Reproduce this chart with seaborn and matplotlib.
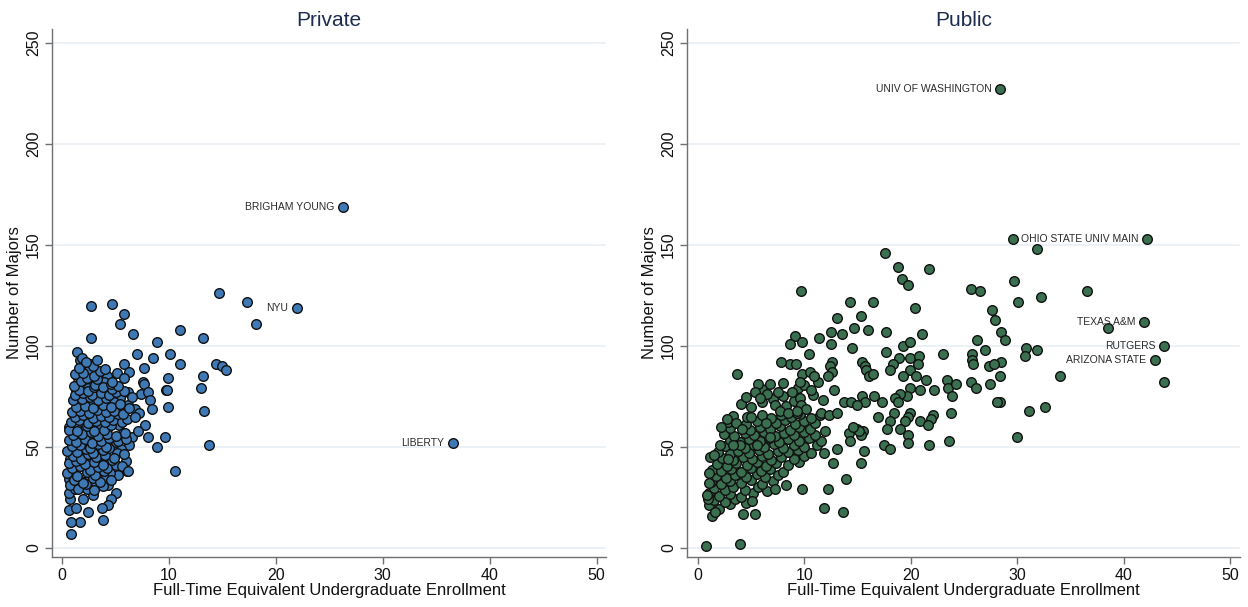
import matplotlib
matplotlib.use("Agg")
import matplotlib.pyplot as plt
import seaborn as sns
import pandas as pd

# (FTE undergraduate enrollment in thousands, number of majors)
private_labeled = [(26.3, 169), (22.0, 119), (36.6, 52)]
private_labeled_names = ["BRIGHAM YOUNG", "NYU", "LIBERTY"]

private_spread = [
    (14.7, 126), (17.3, 122), (18.1, 111), (11.0, 108), (13.2, 104), (8.9, 102),
    (10.1, 96), (11.0, 91), (14.4, 91), (15.0, 90), (15.3, 88), (9.9, 84),
    (13.2, 85), (13.0, 79), (9.8, 78), (9.9, 70), (13.3, 68), (9.6, 55),
    (8.9, 50), (13.7, 51), (10.6, 38), (2.7, 120), (4.7, 121), (5.8, 116),
    (5.4, 111), (6.6, 106), (2.7, 104), (7.0, 96), (8.5, 94), (5.8, 91),
    (6.3, 87), (7.7, 89), (7.6, 82), (7.7, 81), (8.0, 77), (8.2, 73),
    (8.4, 69), (7.8, 61), (7.1, 58), (8.0, 55), (6.2, 38), (5.8, 84),
]

private_cluster = [
    (1.4, 97), (1.7, 93), (1.9, 94), (2.6, 91), (2.5, 88), (1.5, 84), (2.7, 83),
    (4.2, 85), (3.9, 82), (1.3, 77), (1.9, 80), (2.4, 79), (2.8, 78), (3.3, 77),
    (3.75, 76), (4.2, 78), (5.4, 74), (6.2, 77), (7.4, 76), (9.7, 78), (1.5, 72),
    (1.8, 72), (2.3, 72), (2.8, 73), (3.5, 72), (4.5, 70), (4.9, 72), (5.3, 68),
    (6.2, 71), (6.8, 69), (7.2, 67), (0.6, 60), (1.1, 62), (1.3, 60), (2.1, 59),
    (2.9, 60), (3.6, 60), (4.2, 59), (5.3, 61), (5.7, 57), (6.5, 55), (0.9, 52),
    (1.7, 54), (2.5, 54), (3.2, 50), (3.8, 54), (4.8, 51), (6.3, 51), (5.5, 49),
    (0.7, 44), (1.1, 47), (2.0, 45), (2.75, 44), (3.5, 46), (4.2, 43), (5.1, 47),
    (6.0, 43), (6.1, 38), (5.25, 36), (4.5, 37), (0.6, 34), (1.0, 35), (1.8, 33),
    (2.6, 35), (3.2, 32), (4.0, 34), (4.3, 31), (5.0, 27), (4.6, 24), (4.3, 21),
    (3.7, 20), (3.8, 14), (2.4, 18), (1.7, 13), (0.8, 13), (0.8, 7), (0.6, 19),
    (0.7, 24), (1.3, 20), (2.0, 24), (2.9, 26), (0.6, 27), (1.2, 29), (2.3, 29),
]

private_core = [
    (0.7, 31), (1.5, 29), (2.2, 31.5), (3.0, 28.5), (3.8, 30.5),
    (1.1, 33.5), (2.0, 32), (2.9, 34.5), (3.5, 32.5), (4.6, 33.5),
    (0.5, 37), (1.4, 35.5), (2.3, 37.5), (3.1, 36), (3.9, 38),
    (0.9, 39.5), (1.7, 40.5), (2.6, 38.5), (3.4, 40), (4.2, 39.5), (5.0, 41),
    (0.6, 42), (1.3, 43), (2.1, 41.5), (3.0, 42.5), (3.8, 41), (4.7, 43.5), (5.6, 40.5),
    (1.0, 45.5), (1.8, 44), (2.4, 46.5), (3.2, 45), (4.0, 46), (4.9, 44.5),
    (0.5, 48), (1.4, 47.5), (2.2, 49), (2.9, 47), (3.8, 48.5), (4.4, 49.5), (5.8, 46.5),
    (0.9, 50.5), (1.7, 51), (2.6, 49.5), (3.4, 51.5), (4.1, 50), (5.0, 52.5),
    (0.6, 53.5), (1.3, 52.5), (2.1, 54), (2.8, 52), (3.6, 53), (4.4, 54.5), (5.2, 53), (6.0, 54),
    (1.0, 56), (1.9, 56.5), (2.7, 57.5), (3.4, 55.5), (4.2, 56.5), (5.0, 55.5), (5.9, 57),
    (0.6, 58.5), (1.4, 58), (2.3, 60.5), (3.0, 58), (3.9, 58.5), (4.6, 61),
    (0.8, 62.5), (1.6, 63.5), (2.4, 62), (3.2, 63), (4.0, 62.5), (4.8, 63.5), (5.6, 62.5),
    (1.2, 65), (2.0, 66), (2.9, 64.5), (3.6, 65.5), (4.4, 65), (5.2, 66.5), (6.1, 64), (6.8, 65),
    (0.9, 67.5), (1.7, 68), (2.5, 67), (3.3, 68.5), (4.1, 67.5), (4.9, 68), (5.7, 66.5),
    (1.3, 70), (2.1, 70.5), (2.9, 69.5), (3.8, 71), (4.6, 70), (5.4, 71.5), (6.3, 69.5),
    (1.0, 73), (1.9, 73.5), (2.6, 74.5), (3.4, 73), (4.1, 74),
    (1.2, 75.5), (2.0, 76.5), (2.8, 75.5), (3.6, 76.5), (4.4, 75.5), (5.0, 77), (6.5, 74.5),
    (1.6, 78), (2.4, 77.5), (3.0, 79.5), (4.7, 78.5), (5.8, 77.5),
    (1.1, 80), (3.1, 80.5), (3.8, 79.5), (4.6, 81), (5.2, 80),
    (1.8, 82.5), (2.3, 84), (3.3, 83.5), (4.7, 82),
    (1.2, 86), (2.0, 86.5), (3.0, 85), (3.5, 87.5), (5.1, 86.5),
    (1.6, 89), (2.9, 90), (4.0, 88.5), (2.2, 92), (3.3, 93),
]

public_labeled = [(28.4, 227), (42.2, 153), (41.9, 112), (43.8, 100), (42.95, 93)]
public_labeled_names = ["UNIV OF WASHINGTON", "OHIO STATE UNIV MAIN", "TEXAS A&M",
                        "RUTGERS", "ARIZONA STATE"]

public_upper = [
    (43.8, 82), (29.6, 153), (31.8, 148), (29.7, 132), (30.1, 122), (32.2, 124),
    (36.5, 127), (38.5, 109), (28.5, 107), (28.8, 103), (30.8, 99), (31.8, 98),
    (30.7, 95), (28.5, 92), (28.4, 85), (34.0, 85), (28.4, 72), (31.1, 68),
    (32.6, 70), (17.6, 146), (18.8, 139), (21.7, 138), (19.2, 133), (19.7, 130),
    (25.6, 128), (26.5, 127), (16.4, 122), (20.4, 119), (15.3, 115), (14.7, 109),
    (16.0, 108), (17.7, 107), (21.0, 106), (14.3, 122), (27.6, 118), (27.9, 113),
    (26.2, 103), (19.3, 100), (19.9, 102), (14.5, 99), (17.7, 97), (23.0, 96),
    (27.0, 98), (25.7, 96), (25.7, 93), (25.8, 91), (18.9, 94), (19.9, 94),
    (20.8, 95), (20.7, 91), (18.3, 91), (18.0, 88), (19.9, 88), (15.4, 92),
    (15.7, 90), (15.8, 88), (16.1, 85), (16.4, 86), (27.3, 90), (27.8, 91),
    (27.4, 81), (19.3, 85), (20.5, 85), (21.4, 83), (23.4, 83), (23.5, 79),
    (24.2, 81), (23.9, 75), (25.6, 82), (26.1, 79), (22.2, 78), (20.9, 78),
    (19.9, 79), (19.6, 75), (19.0, 76), (18.5, 74), (18.8, 72), (17.3, 72),
    (16.5, 75), (15.4, 75), (15.7, 72), (14.4, 72), (14.9, 71), (18.4, 67),
    (16.9, 65), (19.9, 67), (19.7, 65), (19.4, 63), (22.1, 66), (21.9, 64),
    (20.9, 63), (21.6, 61), (23.8, 67), (18.0, 63), (17.8, 59), (19.0, 59),
    (19.7, 56), (19.7, 52), (21.7, 51), (23.6, 53), (17.5, 51), (18.0, 49),
    (15.6, 48), (15.3, 42), (28.1, 72), (30.0, 55), (15.1, 58), (14.6, 60),
]

public_middle = [
    (9.7, 127), (13.1, 114), (12.5, 107), (13.5, 106), (11.4, 104), (12.5, 101),
    (9.1, 105), (9.8, 102), (8.6, 101), (10.4, 96), (12.6, 92), (12.4, 90),
    (12.6, 87), (12.2, 85), (8.6, 91), (9.2, 91), (9.8, 86), (10.5, 87),
    (10.9, 85), (9.6, 82), (8.8, 77), (10.6, 78), (12.8, 78), (11.7, 73),
    (9.7, 71), (10.1, 69), (9.3, 67), (11.6, 67), (12.3, 66), (13.1, 67),
    (13.7, 72), (11.9, 58), (14.2, 57), (14.9, 59), (15.5, 58), (14.3, 53),
    (15.3, 56), (13.1, 49), (12.7, 42), (11.8, 47), (0.75, 1), (3.9, 2),
    (3.7, 86), (7.8, 92), (5.6, 81), (6.8, 81), (5.4, 77), (6.5, 76), (5.8, 74),
    (7.2, 71), (7.7, 68), (8.5, 67), (9.3, 68), (2.7, 64), (3.6, 62), (2.2, 60),
    (4.6, 65), (5.0, 65), (6.0, 66), (4.1, 59), (6.4, 62), (2.1, 51), (1.1, 45),
    (1.5, 46), (2.8, 44), (3.9, 51), (3.3, 51), (5.5, 51), (6.8, 55), (13.9, 34),
    (13.6, 18), (11.8, 20), (12.2, 29), (9.8, 29), (8.3, 31), (7.2, 29), (5.4, 17),
    (4.2, 17), (5.1, 23), (1.3, 16), (1.6, 18), (0.9, 24), (1.0, 37), (1.0, 32),
    (0.8, 26),
]

public_core = [
    (1.0, 21), (2.0, 19.5), (3.0, 21.5),
    (1.5, 23.5), (2.5, 22.5), (3.5, 24), (4.5, 22),
    (1.0, 27), (2.0, 25.5), (3.0, 26.5), (4.0, 25), (5.2, 27),
    (1.5, 29.5), (2.5, 28.5), (3.3, 30), (4.4, 28.5), (5.6, 30), (6.5, 28),
    (1.2, 32.5), (2.2, 31.5), (3.0, 33), (4.0, 32), (5.0, 33.5), (6.0, 31.5), (7.0, 33),
    (1.7, 35.5), (2.6, 34.5), (3.5, 36), (4.5, 35), (5.5, 36.5), (6.3, 35), (7.5, 36),
    (1.3, 38.5), (2.2, 38), (3.1, 39), (4.0, 37.5), (5.0, 39.5), (5.9, 38), (6.8, 39), (8.0, 37.5),
    (1.8, 41.5), (2.7, 40.5), (3.6, 42), (4.6, 41), (5.5, 42.5), (6.4, 40.5), (7.3, 42), (8.5, 41), (9.5, 42.5),
    (2.3, 44.5), (3.3, 43.5), (4.2, 45), (5.1, 44), (6.0, 45.5), (6.9, 43.5), (7.8, 45), (9.0, 44), (10.0, 45.5),
    (1.9, 47.5), (3.0, 46.5), (3.8, 48), (4.8, 47), (5.7, 48.5), (6.6, 46.5), (7.5, 48), (8.5, 47.5), (9.4, 48.5), (10.6, 47),
    (2.5, 50.5), (4.4, 49.5), (5.3, 51), (6.2, 50), (7.1, 51.5), (8.0, 49.5), (9.0, 51), (10.0, 50), (11.2, 51),
    (3.0, 53.5), (3.9, 52.5), (4.8, 54), (5.8, 53), (6.7, 54.5), (7.6, 52.5), (8.5, 54), (9.5, 53), (10.4, 54.5), (11.6, 53),
    (2.4, 56.5), (3.4, 55.5), (4.4, 57), (5.3, 56), (6.2, 57.5), (7.2, 55.5), (8.1, 57), (9.0, 56), (10.0, 57.5), (11.0, 56),
    (3.0, 59.5), (4.9, 58.5), (5.8, 60), (6.8, 59), (7.7, 60.5), (8.6, 58.5), (9.5, 60), (10.5, 59),
    (2.8, 62.5), (4.5, 61.5), (5.5, 63), (7.3, 62), (8.2, 63.5), (9.1, 61.5), (10.0, 63), (11.0, 62),
    (3.3, 65.5), (6.9, 64.5), (7.8, 66), (8.7, 65), (9.6, 66.5), (10.6, 64.5), (11.5, 66),
    (4.0, 71.5), (5.0, 70), (6.0, 72), (8.3, 70.5), (9.0, 72.5),
    (4.5, 74.5), (7.0, 73.5), (8.0, 75), (9.6, 74), (10.8, 75.5),
    (6.0, 78.5), (7.5, 77), (9.4, 79), (8.0, 81.5), (10.0, 80.5), (11.3, 82),
]


def frame(points):
    return pd.DataFrame(points, columns=["fte", "majors"])


private_df = frame(private_cluster + private_core + private_spread + private_labeled)
public_df = frame(public_core + public_middle + public_upper + public_labeled)

PRIVATE_COLOR = "#3E79B5"
PUBLIC_COLOR = "#3A7050"
GRID_COLOR = "#E8EFF3"
SPINE_COLOR = "#707070"
TITLE_COLOR = "#1E2D4F"

sns.set_style("white")
plt.rcParams["font.family"] = ["Liberation Sans", "DejaVu Sans"]

fig = plt.figure(figsize=(12.48, 6.07), dpi=100)
ax_priv = fig.add_axes([0.0417, 0.0824, 0.444, 0.87])
ax_pub = fig.add_axes([0.5505, 0.0824, 0.443, 0.87])

panels = [
    (ax_priv, private_df, PRIVATE_COLOR, "Private", private_labeled, private_labeled_names, -0.94),
    (ax_pub, public_df, PUBLIC_COLOR, "Public", public_labeled, public_labeled_names, -1.03),
]

for ax, df, color, title, lab_pts, lab_names, xmin in panels:
    sns.scatterplot(data=df, x="fte", y="majors", ax=ax, color=color,
                    s=48, edgecolor="#111111", linewidth=1.0, zorder=3)
    ax.set_xlim(xmin, 50.9)
    ax.set_ylim(-4.5, 257)
    ax.set_xticks([0, 10, 20, 30, 40, 50])
    ax.set_yticks([0, 50, 100, 150, 200, 250])
    ax.yaxis.grid(True, color=GRID_COLOR, linewidth=1.2, zorder=0)
    ax.xaxis.grid(False)
    ax.set_axisbelow(True)
    for side in ("top", "right"):
        ax.spines[side].set_visible(False)
    for side in ("left", "bottom"):
        ax.spines[side].set_color(SPINE_COLOR)
        ax.spines[side].set_linewidth(1.0)
    ax.tick_params(axis="both", direction="out", length=5, width=1.0,
                   color=SPINE_COLOR, labelsize=11.5, labelcolor="#111111",
                   left=True, bottom=True, pad=3)
    for lbl in ax.get_yticklabels():
        lbl.set_rotation(90)
        lbl.set_va("center")
    ax.set_xlabel("Full-Time Equivalent Undergraduate Enrollment", fontsize=12,
                  color="#111111", labelpad=0)
    ax.set_ylabel("Number of Majors", fontsize=12, color="#111111", labelpad=3)
    ax.set_title(title, fontsize=15, color=TITLE_COLOR, pad=2)
    for (x, y), name in zip(lab_pts, lab_names):
        ax.annotate(name, xy=(x, y), xytext=(-6.5, 0), textcoords="offset points",
                    ha="right", va="center", fontsize=7.5, color="#2b2b2b", zorder=4)

fig.savefig("out.png", dpi=100)
